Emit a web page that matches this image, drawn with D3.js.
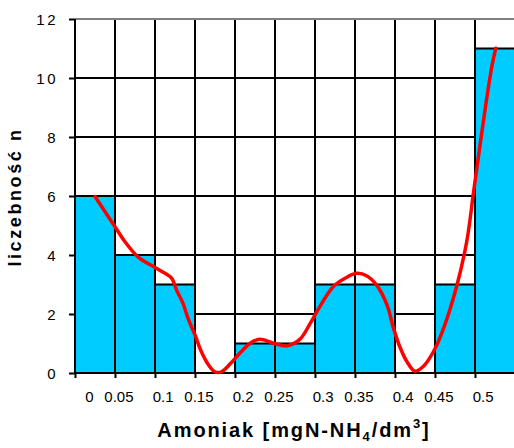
<!DOCTYPE html>
<html>
<head>
<meta charset="utf-8">
<script src="https://cdn.jsdelivr.net/npm/d3@7"></script>
<style>
  html, body { margin: 0; padding: 0; background: #fff; }
  svg { display: block; font-family: "Liberation Sans", Arial, sans-serif; }
</style>
</head>
<body>
<svg id="chart" width="514" height="448"></svg>
<script>
// Histogram classes (class centres) and counts
const categories = [0, 0.05, 0.1, 0.15, 0.2, 0.25, 0.3, 0.35, 0.4, 0.45, 0.5];
const tickLabels = ["0", "0.05", "0.1", "0.15", "0.2", "0.25", "0.3", "0.35", "0.4", "0.45", "0.5"];
const counts = [6, 4, 3, 0, 1, 1, 3, 3, 0, 3, 11];
const yTicks = [0, 2, 4, 6, 8, 10, 12];

// Smoothed frequency curve: concentration and count
const curveX = [0, 0.0125, 0.025, 0.0375, 0.054, 0.075, 0.0875, 0.096, 0.102, 0.110, 0.117,
  0.125, 0.133, 0.142, 0.150, 0.158, 0.169, 0.181, 0.194, 0.206, 0.223, 0.240, 0.256, 0.269,
  0.281, 0.298, 0.3125, 0.327, 0.340, 0.352, 0.365, 0.373, 0.381, 0.390, 0.400, 0.410, 0.423,
  0.435, 0.452, 0.465, 0.473, 0.481, 0.490, 0.496, 0.501];
const curveY = [5.98, 5.47, 4.96, 4.45, 3.93, 3.58, 3.38, 3.21, 2.81, 2.36, 1.80,
  1.29, 0.72, 0.27, 0.04, 0.04, 0.31, 0.67, 1.01, 1.14, 1.01, 0.92, 1.14, 1.68,
  2.25, 2.93, 3.21, 3.38, 3.29, 2.98, 2.31, 1.53, 0.89, 0.38, 0.06, 0.21, 0.72,
  1.46, 2.93, 4.51, 6.09, 7.67, 9.37, 10.38, 11.01];

const binWidth = 0.05;
const svg = d3.select("#chart");
const x = d3.scaleLinear().domain([-0.025, 0.525]).range([75, 515]);
const y = d3.scaleLinear().domain([0, 12]).range([373, 19]);

const edges = d3.range(categories.length + 1).map(i => -0.025 + i * binWidth);

// grid
const grid = svg.append("g");
grid.selectAll("line.h").data(yTicks.filter(v => v > 0 && v < 12)).join("line")
  .attr("x1", x.range()[0]).attr("x2", x.range()[1])
  .attr("y1", d => y(d)).attr("y2", d => y(d))
  .attr("stroke", "#000").attr("stroke-width", 2);
grid.selectAll("line.v").data(edges.slice(1)).join("line")
  .attr("x1", d => x(d)).attr("x2", d => x(d))
  .attr("y1", y(12)).attr("y2", y(0))
  .attr("stroke", "#000").attr("stroke-width", 2);
// top frame line
svg.append("line")
  .attr("x1", x.range()[0]).attr("x2", x.range()[1])
  .attr("y1", y(12)).attr("y2", y(12))
  .attr("stroke", "#808080").attr("stroke-width", 2);

// bars
svg.append("g").selectAll("rect").data(categories).join("rect")
  .attr("x", d => x(d - binWidth / 2))
  .attr("width", d => x(d + binWidth / 2) - x(d - binWidth / 2))
  .attr("y", (d, i) => y(counts[i]))
  .attr("height", (d, i) => y(0) - y(counts[i]))
  .attr("fill", "#00CCFF")
  .attr("stroke", (d, i) => counts[i] > 0 ? "#000" : "none")
  .attr("stroke-width", 2);

// y axis
const yAxis = svg.append("g").attr("transform", `translate(${x.range()[0]},0)`)
  .call(d3.axisLeft(y).tickValues(yTicks).tickSize(6).tickPadding(14).tickFormat(d3.format("d")));
yAxis.select(".domain").attr("stroke", "#000").attr("stroke-width", 2).attr("d", `M0,${y(12)}V${y(0)}`);
yAxis.selectAll(".tick line").attr("stroke", "#000").attr("stroke-width", 2);
yAxis.selectAll(".tick text")
  .attr("font-size", 15).attr("fill", "#000")
  .attr("font-family", "'Liberation Sans', Arial, sans-serif")
  .attr("letter-spacing", 2.5).attr("dx", 3).attr("dy", "0.36em");

// x axis
const xAxis = svg.append("g").attr("transform", `translate(0,${y(0)})`)
  .call(d3.axisBottom(x).tickValues(edges).tickSize(5).tickFormat(""));
xAxis.select(".domain").attr("stroke", "#000").attr("stroke-width", 2)
  .attr("d", `M${x.range()[0]},0H${x.range()[1]}`);
xAxis.selectAll(".tick line").attr("stroke", "#000").attr("stroke-width", 2);

svg.append("g").selectAll("text").data(categories).join("text")
  .attr("x", d => x(d) - 1.5)
  .attr("y", y(0) + 29)
  .attr("text-anchor", "end")
  .attr("font-size", 15)
  .attr("fill", "#000")
  .text((d, i) => tickLabels[i]);

// frequency curve
const line = d3.line()
  .x((d, i) => x(curveX[i]))
  .y((d, i) => y(curveY[i]))
  .curve(d3.curveCatmullRom.alpha(0.5));
svg.append("path")
  .datum(curveX)
  .attr("d", line)
  .attr("fill", "none")
  .attr("stroke", "#FF0000")
  .attr("stroke-width", 3.5)
  .attr("stroke-linejoin", "round")
  .attr("stroke-linecap", "round");

// axis titles
svg.append("text")
  .attr("transform", "translate(21,197) rotate(-90)")
  .attr("text-anchor", "middle")
  .attr("font-size", 18)
  .attr("font-weight", "bold")
  .attr("letter-spacing", 2.6)
  .text("liczebność n");

const xt = svg.append("text")
  .attr("x", 294).attr("y", 437)
  .attr("text-anchor", "middle")
  .attr("font-size", 20)
  .attr("font-weight", "bold")
  .attr("letter-spacing", 1.9);
xt.append("tspan").text("Amoniak [mgN-NH");
xt.append("tspan").attr("font-size", 13).attr("dy", 4).text("4");
xt.append("tspan").attr("dy", -4).text("/dm");
xt.append("tspan").attr("font-size", 13).attr("dy", -9).text("3");
xt.append("tspan").attr("dy", 9).text("]");
</script>
</body>
</html>
